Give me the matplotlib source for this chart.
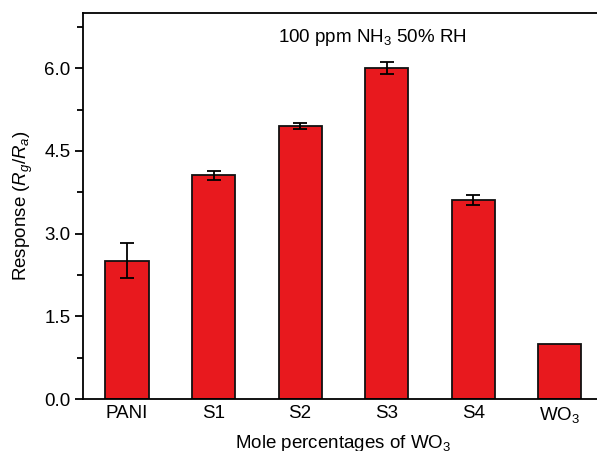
import matplotlib
matplotlib.use("Agg")
import matplotlib.pyplot as plt
from matplotlib.ticker import MultipleLocator

plt.rcParams['font.family'] = ['Liberation Sans', 'DejaVu Sans']
plt.rcParams['mathtext.fontset'] = 'custom'
plt.rcParams['mathtext.rm'] = 'Liberation Sans'
plt.rcParams['mathtext.it'] = 'Liberation Sans:italic'

samples = ['PANI', 'S1', 'S2', 'S3', 'S4', r'WO$_3$']
response = [2.51, 4.06, 4.95, 6.01, 3.61, 1.00]
errors = [0.31, 0.08, 0.05, 0.11, 0.09, 0.0]

fs = 13.5

fig = plt.figure(figsize=(5.97, 4.51), dpi=100)
# axes run slightly past the right edge of the figure
ax = fig.add_axes([83/597, 52/451, 520/597, 386/451])

x = range(len(samples))
ax.bar(x, response, width=0.5, color='#E8191E', edgecolor='#111111', linewidth=1.3, zorder=2)
has_err = [i for i in x if errors[i] > 0]
ax.errorbar(has_err, [response[i] for i in has_err], yerr=[errors[i] for i in has_err],
            fmt='none', ecolor='black', elinewidth=1.3, capsize=5, capthick=1.3, zorder=3)

ax.set_xlim(-0.51, 5.5)
ax.set_ylim(0, 7.0)
ax.yaxis.set_minor_locator(MultipleLocator(0.75))
ax.set_yticks([0, 1.5, 3.0, 4.5, 6.0])
ax.set_yticklabels(['0.0', '1.5', '3.0', '4.5', '6.0'])
ax.set_xticks(list(x))
ax.set_xticklabels(samples)

for s in ax.spines.values():
    s.set_linewidth(1.3)
ax.spines['right'].set_visible(False)

ax.tick_params(axis='y', which='major', direction='out', length=6, width=1.3, labelsize=fs, pad=3)
ax.tick_params(axis='y', which='minor', direction='out', length=4, width=1.3)
ax.tick_params(axis='x', which='both', length=0, labelsize=fs, pad=4)

ax.set_ylabel(r'Response ($R_g$/$R_a$)', fontsize=fs, labelpad=7)
ax.set_xlabel(r'Mole percentages of WO$_3$', fontsize=fs, labelpad=6)

fig.text(372/597, 1 - 38/451, r'100 ppm NH$_3$ 50% RH', fontsize=fs, ha='center', va='center')

fig.savefig('out.png', dpi=100)
